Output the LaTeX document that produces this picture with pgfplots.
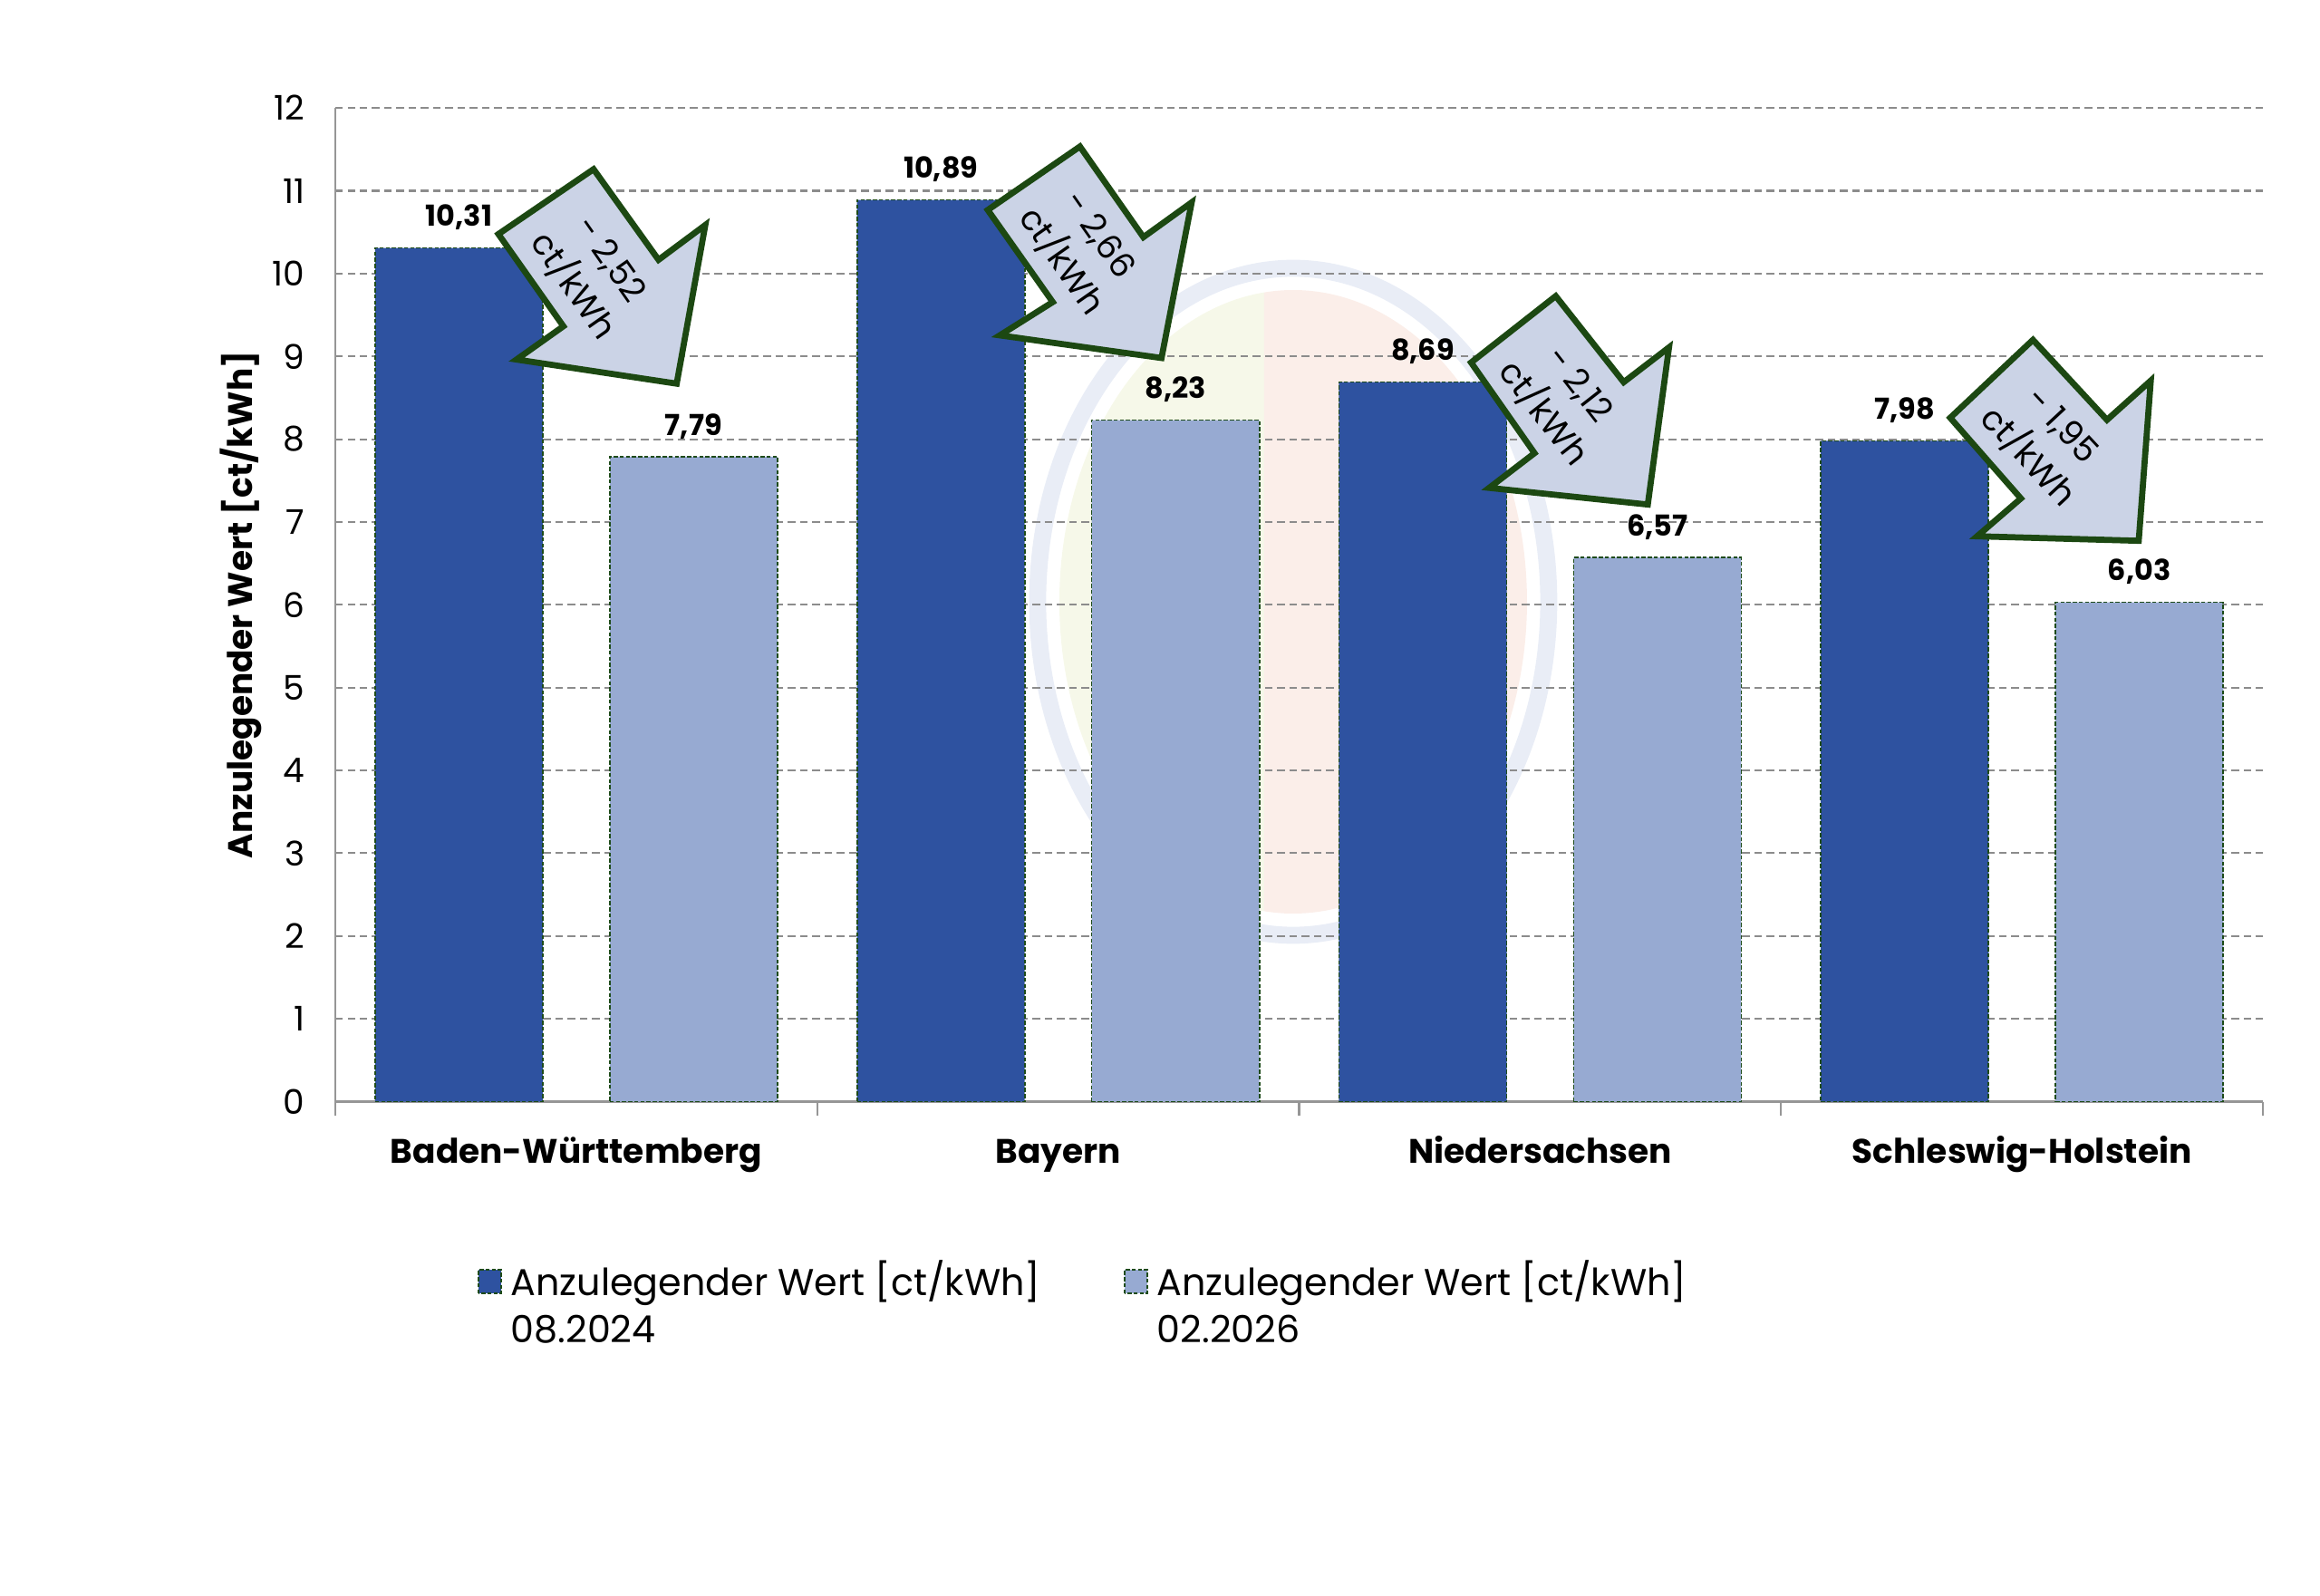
\documentclass[border=0pt]{standalone}
\usepackage{pgfplots}
\pgfplotsset{compat=1.18}
\usepackage{fontspec}
\setmainfont{Poppins}
\definecolor{darkbar}{RGB}{46,82,160}
\definecolor{lightbar}{RGB}{151,170,210}
\definecolor{edgegreen}{RGB}{30,75,25}
\definecolor{arrowfill}{RGB}{203,211,230}
\definecolor{arrowdraw}{RGB}{28,72,18}
\definecolor{gridgray}{RGB}{140,140,140}
\definecolor{axisgray}{RGB}{150,150,150}
\definecolor{wmring}{RGB}{233,237,246}
\definecolor{wmleft}{RGB}{246,248,233}
\definecolor{wmright}{RGB}{251,238,233}
\pgfplotsset{sqlegend/.style={legend image code/.code={\path (0pt,-9.75pt) (0pt,9.75pt); \draw[##1] (0pt,-3.75pt) rectangle (6.7pt,3.15pt);}},
  barlabels/.style={nodes near coords={\pgfmathprintnumber[fixed,fixed zerofill,precision=2,use comma,assume math mode=true]{\pgfplotspointmeta}},
  nodes near coords style={text=black, solid, font=\bfseries\fontsize{8.5}{10}\selectfont, anchor=base, yshift=6.3pt, xshift=#1}}}
\begin{document}
\begin{tikzpicture}
\path[use as bounding box] (-98.68pt,-145.48pt) rectangle (584.07pt,324.17pt);
% faint watermark
\begin{scope}[x=0.2667pt,y=-0.2667pt,shift={(-98.68pt,324.17pt)}]
  \begin{scope}
    \clip (1100,250) rectangle (1395,1100);
    \fill[wmleft] (1427,664) ellipse [x radius=258, y radius=344];
  \end{scope}
  \begin{scope}
    \clip (1395,250) rectangle (1750,1100);
    \fill[wmright] (1427,664) ellipse [x radius=258, y radius=344];
  \end{scope}
  \draw[wmring, line width=5pt] (1427,664) ellipse [x radius=282, y radius=368];
\end{scope}
\begin{axis}[
  at={(0,0)}, anchor=south west, scale only axis,
  width=567.3pt, height=292.4pt,
  xmin=-0.5, xmax=3.5, ymin=0, ymax=12,
  ytick={0,1,...,12},
  yticklabels={0,1,2,3,4,5,6,7,8,9,10,11,12},
  xtick={0,1,2,3},
  xticklabels={Baden-Württemberg,Bayern,Niedersachsen,Schleswig-Holstein},
  minor xtick={-0.5,0.5,1.5,2.5,3.5},
  axis x line*=bottom, axis y line*=left,
  x axis line style={-, axisgray, line width=0.6pt},
  y axis line style={-, axisgray, line width=0.6pt},
  ymajorgrids, grid style={gridgray, dash pattern=on 2.2pt off 1.4pt, line width=0.55pt},
  major tick length=0pt, minor tick length=4pt, tick align=outside,
  minor tick style={axisgray, line width=0.6pt},
  yticklabel style={font=\fontsize{10}{12}\selectfont, xshift=-5.5pt},
  xticklabel style={font=\bfseries\fontsize{10}{12}\selectfont, anchor=base, yshift=-18pt},
  ylabel={Anzulegender Wert [ct/kWh]},
  every axis y label/.style={at={(axis description cs:-0.0488,0.5)}, rotate=90, anchor=center, font=\bfseries\fontsize{10}{12}\selectfont},
  legend columns=2,
  legend style={draw=none, fill=none, inner sep=0pt, outer sep=0pt,
    at={(axis description cs:0.0739,-0.146)}, anchor=north west,
    font=\fontsize{11}{13.9}\selectfont,
    nodes={inner sep=0pt},
    cells={anchor=west},
    /tikz/every odd column/.append style={column sep=2.6pt},
    /tikz/every even column/.append style={column sep=0pt}},
]
\addplot[ybar, bar width=0.348, bar shift=-0.2435, fill=darkbar, draw=edgegreen,
  dash pattern=on 1.2pt off 0.6pt, line width=0.45pt, sqlegend, barlabels=-34.53pt]
  coordinates {(0,10.31) (1,10.89) (2,8.69) (3,7.98)};
\addlegendentry{\parbox[t]{180.4pt}{Anzulegender Wert [ct/kWh]\\08.2024}}
\addplot[ybar, bar width=0.348, bar shift=0.2435, fill=lightbar, draw=edgegreen,
  dash pattern=on 1.2pt off 0.6pt, line width=0.45pt, sqlegend, barlabels=34.53pt]
  coordinates {(0,7.79) (1,8.23) (2,6.57) (3,6.03)};
\addlegendentry{\parbox[t]{180.4pt}{Anzulegender Wert [ct/kWh]\\02.2026}}
\end{axis}
% block arrows
\begin{scope}[x=0.2667pt,y=-0.2667pt,shift={(-98.68pt,324.17pt)}]
  \tikzset{blk/.style={draw=arrowdraw, fill=arrowfill, line width=1.8pt, line join=miter},
           atxt/.style={align=center, font=\fontsize{10}{13.5}\selectfont}}
  \draw[blk] (550,258.3) -- (655,186.7) -- (726.7,286.7) -- (778.3,248.3) -- (746.7,423.3) -- (570,396.7) -- (621.7,360) -- cycle;
  \node[atxt, rotate=-55] at (652,302) {- 2,52\\ct/kWh};
  \draw[blk] (1090,231.7) -- (1191.7,161.7) -- (1261.7,261.7) -- (1315,223.3) -- (1281.7,395) -- (1103.3,370) -- (1161.7,333.3) -- cycle;
  \node[atxt, rotate=-55] at (1191.5,274.5) {- 2,66\\ct/kWh};
  \draw[blk] (1623.3,400) -- (1716.7,326.7) -- (1791.7,421.7) -- (1841.7,383.3) -- (1818.3,556.7) -- (1643.3,538.3) -- (1693.3,500) -- cycle;
  \node[atxt, rotate=-52] at (1722,441) {- 2,12\\ct/kWh};
  \draw[blk] (2152,461) -- (2243.3,375) -- (2325,463.3) -- (2373.3,420) -- (2360,596.7) -- (2181.7,591.7) -- (2230,550) -- cycle;
  \node[atxt, rotate=-47] at (2255.7,487.8) {- 1,95\\ct/kWh};
\end{scope}
\end{tikzpicture}
\end{document}
